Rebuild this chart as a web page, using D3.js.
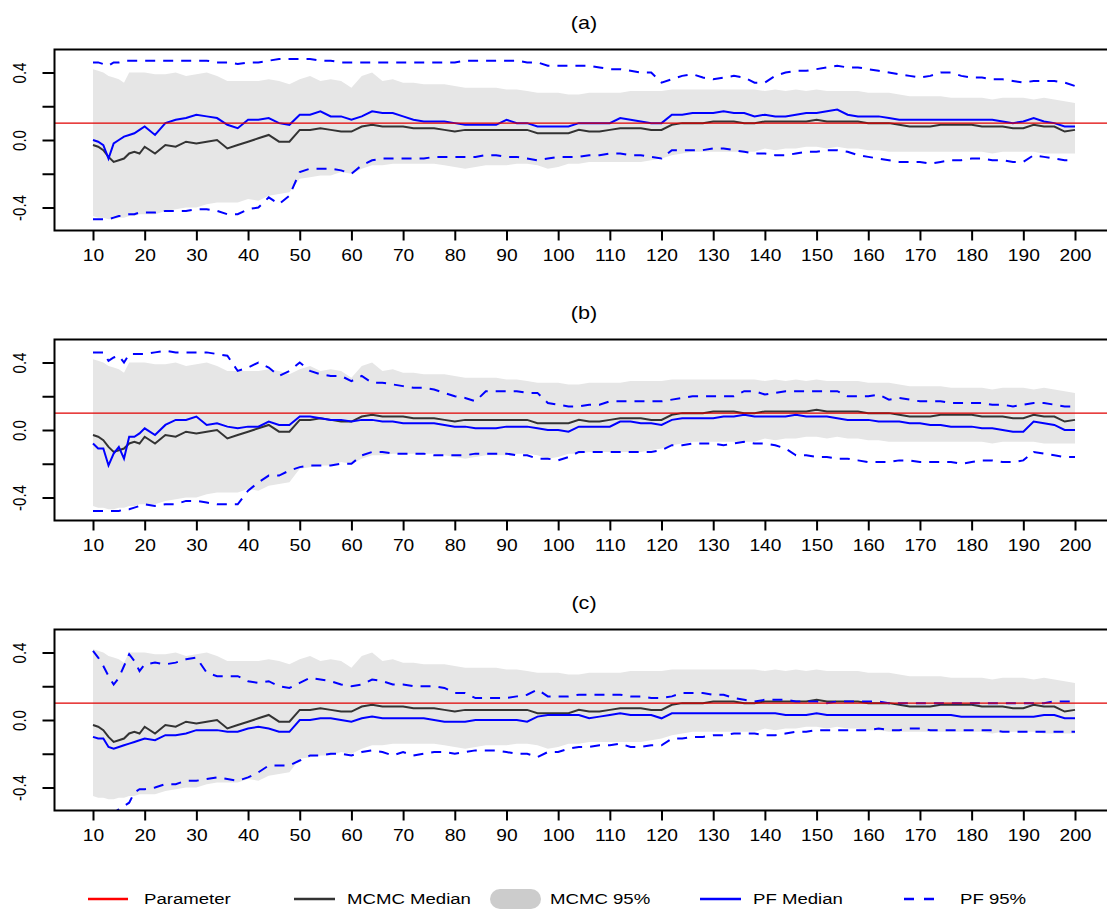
<!DOCTYPE html>
<html>
<head>
<meta charset="utf-8">
<script src="https://cdn.jsdelivr.net/npm/d3@7"></script>
<style>
  body { margin: 0; background: #fff; }
  svg { display: block; font-family: "Liberation Sans", Arial, sans-serif; }
</style>
</head>
<body>
<svg width="1107" height="909"></svg>
<script>
// x grid: every step up to 20, then every second step
var steps = d3.range(10, 21).concat(d3.range(22, 201, 2));
var xTicks = d3.range(10, 201, 10);
var yTicks = [-0.4, -0.2, 0, 0.2, 0.4];
var parameter = 0.1;
var titles = ["(a)", "(b)", "(c)"];

// MCMC (same run in every panel)
var mcmcHi = [0.42, 0.41, 0.40, 0.38, 0.37, 0.36, 0.34, 0.40, 0.40, 0.40, 0.40,
  0.39, 0.39, 0.40, 0.38, 0.39, 0.40, 0.38, 0.35, 0.35, 0.35,
  0.35, 0.36, 0.35, 0.33, 0.36, 0.38, 0.35, 0.36, 0.35, 0.31,
  0.38, 0.40, 0.35, 0.36, 0.34, 0.34, 0.33, 0.33, 0.33, 0.32,
  0.31, 0.31, 0.31, 0.31, 0.30, 0.30, 0.29, 0.28, 0.28, 0.28,
  0.27, 0.27, 0.28, 0.28, 0.28, 0.28, 0.29, 0.29, 0.29, 0.29,
  0.30, 0.30, 0.30, 0.30, 0.30, 0.30, 0.30, 0.30, 0.30, 0.29,
  0.30, 0.29, 0.30, 0.29, 0.30, 0.29, 0.29, 0.29, 0.29, 0.28,
  0.28, 0.28, 0.27, 0.26, 0.26, 0.26, 0.26, 0.25, 0.25, 0.25,
  0.25, 0.24, 0.25, 0.25, 0.25, 0.24, 0.25, 0.24, 0.23, 0.22];
var mcmcLo = [-0.45, -0.46, -0.46, -0.47, -0.47, -0.46, -0.46, -0.45, -0.45, -0.44, -0.44,
  -0.44, -0.42, -0.41, -0.40, -0.40, -0.38, -0.37, -0.37, -0.37, -0.35,
  -0.36, -0.33, -0.32, -0.31, -0.23, -0.22, -0.21, -0.21, -0.19, -0.20,
  -0.17, -0.15, -0.15, -0.14, -0.14, -0.14, -0.14, -0.14, -0.15, -0.16,
  -0.17, -0.16, -0.15, -0.15, -0.15, -0.14, -0.14, -0.15, -0.17, -0.16,
  -0.14, -0.14, -0.13, -0.13, -0.13, -0.13, -0.13, -0.13, -0.12, -0.11,
  -0.09, -0.08, -0.07, -0.07, -0.07, -0.07, -0.07, -0.07, -0.07, -0.05,
  -0.06, -0.05, -0.05, -0.04, -0.04, -0.05, -0.04, -0.05, -0.05, -0.06,
  -0.06, -0.07, -0.07, -0.07, -0.07, -0.07, -0.07, -0.07, -0.07, -0.07,
  -0.07, -0.08, -0.07, -0.07, -0.07, -0.07, -0.08, -0.08, -0.08, -0.08];
var mcmcMed = [-0.03, -0.04, -0.06, -0.10, -0.13, -0.12, -0.11, -0.08, -0.07, -0.08, -0.04,
  -0.08, -0.03, -0.04, -0.01, -0.02, -0.01, 0.00, -0.05, -0.03, -0.01,
  0.01, 0.03, -0.01, -0.01, 0.06, 0.06, 0.07, 0.06, 0.05, 0.05,
  0.08, 0.09, 0.08, 0.08, 0.08, 0.07, 0.07, 0.07, 0.06, 0.05,
  0.06, 0.06, 0.06, 0.06, 0.06, 0.06, 0.06, 0.04, 0.04, 0.04,
  0.04, 0.06, 0.05, 0.05, 0.06, 0.07, 0.07, 0.07, 0.06, 0.06,
  0.09, 0.10, 0.10, 0.10, 0.11, 0.11, 0.11, 0.10, 0.10, 0.11,
  0.11, 0.11, 0.11, 0.11, 0.12, 0.11, 0.11, 0.11, 0.11, 0.10,
  0.10, 0.10, 0.09, 0.08, 0.08, 0.08, 0.09, 0.09, 0.09, 0.09,
  0.08, 0.08, 0.08, 0.07, 0.07, 0.09, 0.08, 0.08, 0.05, 0.06];

// particle filter, panel (a)
var pfMedA = [0.00, -0.01, -0.03, -0.11, -0.02, 0.00, 0.02, 0.03, 0.04, 0.06, 0.08,
  0.03, 0.10, 0.12, 0.13, 0.15, 0.14, 0.13, 0.09, 0.07, 0.12,
  0.12, 0.13, 0.10, 0.09, 0.15, 0.15, 0.17, 0.14, 0.14, 0.12,
  0.14, 0.17, 0.16, 0.16, 0.14, 0.12, 0.11, 0.11, 0.11, 0.10,
  0.09, 0.09, 0.09, 0.09, 0.12, 0.10, 0.10, 0.08, 0.08, 0.08,
  0.08, 0.10, 0.10, 0.10, 0.10, 0.13, 0.12, 0.11, 0.10, 0.10,
  0.15, 0.15, 0.16, 0.16, 0.16, 0.17, 0.16, 0.16, 0.14, 0.15,
  0.14, 0.14, 0.15, 0.16, 0.16, 0.17, 0.18, 0.15, 0.14, 0.14,
  0.14, 0.13, 0.12, 0.12, 0.12, 0.12, 0.12, 0.12, 0.12, 0.12,
  0.12, 0.12, 0.11, 0.10, 0.11, 0.13, 0.11, 0.10, 0.08, 0.08];
var pfHiA = [0.46, 0.46, 0.45, 0.44, 0.46, 0.46, 0.47, 0.47, 0.47, 0.47, 0.47,
  0.47, 0.47, 0.47, 0.47, 0.47, 0.47, 0.46, 0.46, 0.45, 0.46,
  0.46, 0.47, 0.48, 0.48, 0.48, 0.48, 0.47, 0.47, 0.46, 0.46,
  0.46, 0.46, 0.46, 0.46, 0.46, 0.46, 0.46, 0.46, 0.46, 0.46,
  0.47, 0.47, 0.47, 0.47, 0.47, 0.47, 0.46, 0.46, 0.44, 0.44,
  0.44, 0.44, 0.44, 0.43, 0.42, 0.42, 0.41, 0.40, 0.40, 0.34,
  0.36, 0.38, 0.39, 0.37, 0.36, 0.37, 0.38, 0.37, 0.34, 0.34,
  0.38, 0.40, 0.41, 0.41, 0.42, 0.43, 0.44, 0.43, 0.43, 0.42,
  0.41, 0.40, 0.39, 0.38, 0.37, 0.38, 0.40, 0.40, 0.38, 0.37,
  0.37, 0.36, 0.36, 0.35, 0.34, 0.35, 0.35, 0.35, 0.34, 0.32];
var pfLoA = [-0.47, -0.47, -0.47, -0.47, -0.46, -0.45, -0.45, -0.44, -0.44, -0.43, -0.43,
  -0.43, -0.42, -0.42, -0.42, -0.41, -0.41, -0.42, -0.44, -0.44, -0.41,
  -0.40, -0.34, -0.38, -0.33, -0.19, -0.17, -0.17, -0.17, -0.18, -0.20,
  -0.15, -0.12, -0.11, -0.11, -0.11, -0.11, -0.11, -0.10, -0.10, -0.10,
  -0.10, -0.10, -0.09, -0.09, -0.10, -0.10, -0.11, -0.12, -0.11, -0.10,
  -0.10, -0.10, -0.09, -0.09, -0.08, -0.08, -0.09, -0.09, -0.10, -0.11,
  -0.06, -0.06, -0.06, -0.06, -0.05, -0.05, -0.06, -0.07, -0.08, -0.08,
  -0.09, -0.09, -0.08, -0.07, -0.07, -0.06, -0.06, -0.07, -0.09, -0.10,
  -0.11, -0.12, -0.13, -0.13, -0.13, -0.14, -0.13, -0.12, -0.12, -0.11,
  -0.11, -0.12, -0.12, -0.13, -0.13, -0.09, -0.10, -0.11, -0.12, -0.12];

// panel (b)
var pfMedB = [-0.08, -0.11, -0.11, -0.21, -0.14, -0.10, -0.17, -0.04, -0.04, -0.02, 0.01,
  -0.03, 0.03, 0.06, 0.06, 0.08, 0.03, 0.04, 0.02, 0.01, 0.02,
  0.02, 0.05, 0.03, 0.03, 0.08, 0.08, 0.07, 0.06, 0.06, 0.05,
  0.06, 0.06, 0.05, 0.05, 0.04, 0.04, 0.04, 0.04, 0.03, 0.02,
  0.02, 0.01, 0.01, 0.01, 0.02, 0.02, 0.02, 0.01, 0.00, 0.00,
  -0.01, 0.02, 0.02, 0.02, 0.02, 0.05, 0.05, 0.04, 0.04, 0.03,
  0.06, 0.07, 0.07, 0.07, 0.07, 0.08, 0.08, 0.09, 0.08, 0.08,
  0.08, 0.08, 0.09, 0.08, 0.08, 0.08, 0.07, 0.06, 0.06, 0.06,
  0.05, 0.05, 0.05, 0.04, 0.04, 0.03, 0.03, 0.02, 0.02, 0.02,
  0.01, 0.01, 0.00, -0.01, -0.01, 0.05, 0.04, 0.03, 0.00, 0.00];
var pfHiB = [0.46, 0.46, 0.46, 0.41, 0.43, 0.44, 0.40, 0.45, 0.45, 0.45, 0.45,
  0.46, 0.47, 0.46, 0.46, 0.46, 0.46, 0.45, 0.44, 0.35, 0.37,
  0.40, 0.37, 0.32, 0.35, 0.40, 0.35, 0.33, 0.32, 0.32, 0.29,
  0.32, 0.28, 0.28, 0.27, 0.26, 0.25, 0.25, 0.24, 0.22, 0.20,
  0.19, 0.17, 0.23, 0.23, 0.23, 0.23, 0.22, 0.22, 0.16, 0.15,
  0.14, 0.14, 0.15, 0.15, 0.17, 0.17, 0.17, 0.17, 0.17, 0.17,
  0.18, 0.19, 0.20, 0.20, 0.20, 0.20, 0.20, 0.23, 0.23, 0.21,
  0.22, 0.23, 0.23, 0.23, 0.23, 0.23, 0.23, 0.20, 0.20, 0.20,
  0.21, 0.18, 0.19, 0.18, 0.17, 0.17, 0.17, 0.16, 0.16, 0.16,
  0.16, 0.15, 0.15, 0.14, 0.15, 0.16, 0.16, 0.15, 0.14, 0.14];
var pfLoB = [-0.48, -0.48, -0.48, -0.48, -0.48, -0.48, -0.47, -0.47, -0.46, -0.45, -0.44,
  -0.45, -0.44, -0.44, -0.42, -0.42, -0.43, -0.44, -0.44, -0.44, -0.36,
  -0.31, -0.27, -0.27, -0.24, -0.22, -0.21, -0.21, -0.21, -0.20, -0.20,
  -0.15, -0.13, -0.13, -0.14, -0.14, -0.14, -0.14, -0.15, -0.15, -0.15,
  -0.15, -0.14, -0.14, -0.14, -0.14, -0.15, -0.15, -0.17, -0.17, -0.18,
  -0.16, -0.13, -0.13, -0.13, -0.13, -0.13, -0.13, -0.13, -0.13, -0.12,
  -0.09, -0.09, -0.08, -0.08, -0.08, -0.09, -0.08, -0.07, -0.08, -0.08,
  -0.09, -0.11, -0.15, -0.15, -0.16, -0.16, -0.17, -0.17, -0.18, -0.19,
  -0.19, -0.19, -0.18, -0.18, -0.19, -0.19, -0.19, -0.19, -0.20, -0.19,
  -0.18, -0.18, -0.19, -0.19, -0.18, -0.13, -0.14, -0.15, -0.16, -0.16];

// panel (c)
var pfMedC = [-0.10, -0.11, -0.11, -0.16, -0.17, -0.16, -0.15, -0.14, -0.13, -0.12, -0.11,
  -0.12, -0.09, -0.09, -0.08, -0.06, -0.06, -0.06, -0.07, -0.07, -0.05,
  -0.04, -0.05, -0.07, -0.07, 0.00, 0.00, 0.01, 0.01, 0.00, -0.01,
  0.01, 0.02, 0.01, 0.01, 0.01, 0.01, 0.01, 0.00, -0.01, -0.01,
  -0.01, 0.00, 0.00, 0.00, 0.00, 0.00, -0.01, 0.02, 0.03, 0.03,
  0.03, 0.03, 0.01, 0.02, 0.03, 0.04, 0.03, 0.03, 0.03, 0.01,
  0.04, 0.04, 0.04, 0.04, 0.04, 0.04, 0.04, 0.04, 0.04, 0.04,
  0.04, 0.03, 0.03, 0.03, 0.04, 0.03, 0.03, 0.03, 0.03, 0.03,
  0.03, 0.03, 0.03, 0.03, 0.03, 0.03, 0.03, 0.03, 0.02, 0.02,
  0.02, 0.02, 0.02, 0.02, 0.02, 0.02, 0.03, 0.03, 0.01, 0.01];
var pfHiC = [0.41, 0.37, 0.32, 0.26, 0.21, 0.25, 0.32, 0.39, 0.35, 0.29, 0.33,
  0.34, 0.33, 0.34, 0.36, 0.37, 0.28, 0.26, 0.26, 0.26, 0.23,
  0.22, 0.23, 0.20, 0.19, 0.22, 0.25, 0.24, 0.23, 0.21, 0.20,
  0.21, 0.24, 0.23, 0.21, 0.21, 0.20, 0.20, 0.20, 0.19, 0.16,
  0.16, 0.13, 0.13, 0.13, 0.13, 0.14, 0.15, 0.18, 0.14, 0.14,
  0.14, 0.15, 0.15, 0.15, 0.15, 0.15, 0.14, 0.14, 0.13, 0.13,
  0.14, 0.16, 0.16, 0.16, 0.15, 0.15, 0.13, 0.12, 0.11, 0.12,
  0.12, 0.12, 0.11, 0.11, 0.11, 0.10, 0.11, 0.11, 0.11, 0.11,
  0.11, 0.10, 0.10, 0.10, 0.10, 0.10, 0.10, 0.10, 0.10, 0.10,
  0.10, 0.10, 0.10, 0.10, 0.10, 0.10, 0.10, 0.11, 0.11, 0.11];
var pfLoC = [-0.54, -0.55, -0.56, -0.56, -0.55, -0.53, -0.51, -0.49, -0.43, -0.41, -0.41,
  -0.40, -0.38, -0.38, -0.36, -0.36, -0.35, -0.34, -0.35, -0.36, -0.34,
  -0.31, -0.27, -0.27, -0.27, -0.24, -0.21, -0.21, -0.20, -0.20, -0.21,
  -0.19, -0.18, -0.19, -0.21, -0.19, -0.21, -0.20, -0.19, -0.19, -0.20,
  -0.19, -0.18, -0.18, -0.18, -0.19, -0.20, -0.20, -0.22, -0.19, -0.19,
  -0.17, -0.16, -0.16, -0.15, -0.15, -0.14, -0.16, -0.16, -0.15, -0.15,
  -0.11, -0.11, -0.10, -0.10, -0.09, -0.09, -0.08, -0.08, -0.08, -0.09,
  -0.09, -0.08, -0.07, -0.07, -0.06, -0.06, -0.06, -0.06, -0.06, -0.06,
  -0.05, -0.06, -0.06, -0.05, -0.05, -0.06, -0.06, -0.06, -0.06, -0.06,
  -0.06, -0.06, -0.07, -0.07, -0.07, -0.07, -0.07, -0.07, -0.07, -0.07];

var pfMed = [pfMedA, pfMedB, pfMedC],
    pfHi = [pfHiA, pfHiB, pfHiC],
    pfLo = [pfLoA, pfLoB, pfLoC];

var svg = d3.select("svg"),
    stretch = 1.2,           // the original output is a bit wider than tall
    box = {left: 54.5, right: 1115, top: 49.5, bottom: 230.5},
    panelGap = 290;

var x = d3.scaleLinear().domain([10, 200]).range([93, 1075]);

var xAxis = d3.axisBottom(x).tickValues(xTicks).tickSizeInner(10).tickSizeOuter(0).tickPadding(9);

var colMcmc = "#333333", colPf = "#0000ff", colBand = "#e6e6e6";

titles.forEach(function(title, p) {
  var off = p * panelGap;
  var y = d3.scaleLinear().domain([-0.4, 0.4]).range([off + 207.5, off + 72.5]);
  var g = svg.append("g");

  g.append("defs").append("clipPath")
      .attr("id", "clip" + p)
    .append("rect")
      .attr("x", box.left)
      .attr("y", off + box.top)
      .attr("width", box.right - box.left)
      .attr("height", box.bottom - box.top);

  var plot = g.append("g").attr("clip-path", "url(#clip" + p + ")");

  // MCMC 95% band
  var band = d3.area()
      .x(function(d, i) { return x(steps[i]); })
      .y0(function(d, i) { return y(mcmcLo[i]); })
      .y1(function(d, i) { return y(mcmcHi[i]); });
  plot.append("path")
      .datum(steps)
      .attr("d", band)
      .attr("fill", colBand);

  var line = function(vals) {
    return d3.line()
      .x(function(d, i) { return x(steps[i]); })
      .y(function(d) { return y(d); })(vals);
  };

  plot.append("path")
      .attr("d", line(mcmcMed))
      .attr("fill", "none")
      .attr("stroke", colMcmc)
      .attr("stroke-width", 2);

  plot.append("path")
      .attr("d", line(pfMed[p]))
      .attr("fill", "none")
      .attr("stroke", colPf)
      .attr("stroke-width", 2);

  [pfHi[p], pfLo[p]].forEach(function(vals) {
    plot.append("path")
        .attr("d", line(vals))
        .attr("fill", "none")
        .attr("stroke", colPf)
        .attr("stroke-width", 2)
        .attr("stroke-dasharray", "10,8");
  });

  // true parameter
  plot.append("line")
      .attr("x1", box.left).attr("x2", box.right)
      .attr("y1", y(parameter)).attr("y2", y(parameter))
      .attr("stroke", "#e00000")
      .attr("stroke-width", 1.2);

  // frame
  g.append("rect")
      .attr("x", box.left)
      .attr("y", off + box.top)
      .attr("width", box.right - box.left)
      .attr("height", box.bottom - box.top)
      .attr("fill", "none")
      .attr("stroke", "#000")
      .attr("stroke-width", 2);

  // x axis
  var ax = g.append("g")
      .attr("transform", "translate(0," + (off + box.bottom) + ")")
      .call(xAxis);
  ax.select(".domain").remove();
  ax.selectAll("line").attr("stroke-width", 2);
  ax.selectAll("text")
      .attr("font-size", 16)
      .attr("font-family", "Liberation Sans, Arial, sans-serif")
      .attr("fill", "#000")
      .attr("transform", "scale(" + stretch + ",1)");

  // y axis
  var yAxis = d3.axisLeft(y).tickValues(yTicks).tickSizeInner(12).tickSizeOuter(0)
      .tickFormat(function(d) { return Math.abs(d) === 0.2 ? "" : d.toFixed(1); });
  var ay = g.append("g")
      .attr("transform", "translate(" + box.left + ",0)")
      .call(yAxis);
  ay.select(".domain").remove();
  ay.selectAll("line").attr("stroke-width", 2);
  ay.selectAll("text")
      .attr("x", null)
      .attr("dy", null)
      .attr("text-anchor", "middle")
      .attr("font-size", 15)
      .attr("font-family", "Liberation Sans, Arial, sans-serif")
      .attr("fill", "#000")
      .attr("transform", "translate(-29,0) scale(" + stretch + ",1) rotate(-90)");

  // panel title
  g.append("text")
      .attr("transform", "translate(584," + (off + 29) + ") scale(" + stretch + ",1)")
      .attr("text-anchor", "middle")
      .attr("font-size", 18)
      .text(title);
});

// legend
var legendItems = [
  {label: "Parameter", kind: "line", color: "#ff0000", x1: 88, x2: 128, tx: 144},
  {label: "MCMC Median", kind: "line", color: colMcmc, x1: 294, x2: 335, tx: 347},
  {label: "MCMC 95%", kind: "band", color: "#cccccc", x1: 500, x2: 531, tx: 550},
  {label: "PF Median", kind: "line", color: colPf, x1: 700, x2: 741, tx: 753},
  {label: "PF 95%", kind: "dash", color: colPf, x1: 904, x2: 944, tx: 960}
];
var ly = 899;
var legend = svg.append("g");
legendItems.forEach(function(d) {
  legend.append("line")
      .attr("x1", d.x1).attr("x2", d.x2)
      .attr("y1", ly).attr("y2", ly)
      .attr("stroke", d.color)
      .attr("stroke-width", d.kind === "band" ? 20 : 2.5)
      .attr("stroke-linecap", d.kind === "band" ? "round" : "butt")
      .attr("stroke-dasharray", d.kind === "dash" ? "10,10" : null);
  legend.append("text")
      .attr("transform", "translate(" + d.tx + "," + (ly + 5) + ") scale(" + stretch + ",1)")
      .attr("font-size", 15.5)
      .text(d.label);
});
</script>
</body>
</html>
